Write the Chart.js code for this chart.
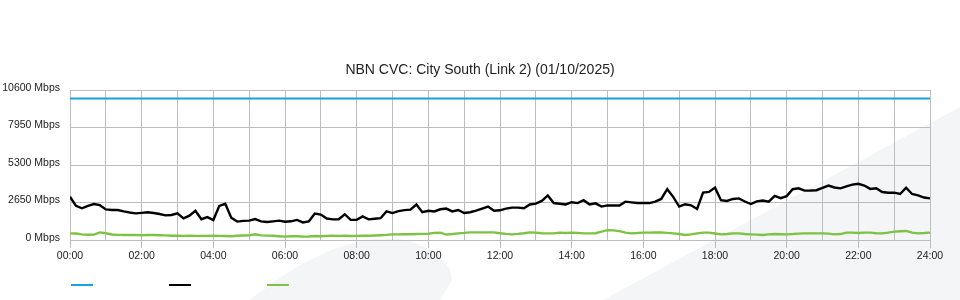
<!DOCTYPE html>
<html>
<head>
<meta charset="utf-8">
<script src="https://cdn.jsdelivr.net/npm/chart.js@4/dist/chart.umd.min.js"></script>
<style>
  html, body { margin: 0; padding: 0; background: #ffffff; }
  #wrap { width: 960px; height: 300px; position: relative; }
</style>
</head>
<body>
<div id="wrap"><canvas id="c"></canvas></div>
<script>
// ---------------- data ----------------
const chartTitle = 'NBN CVC: City South (Link 2) (01/10/2025)';
const yTickValues = [0, 2650, 5300, 7950, 10600];
const yUnit = ' Mbps';
const xLabelHours = [0, 2, 4, 6, 8, 10, 12, 14, 16, 18, 20, 22, 24];

// capacity line (Mbps)
const capacityHours = [0, 24];
const capacity = [10000, 10000];

// 10-minute samples, 00:00 .. 24:00
const sampleMinutes = Array.from({ length: 145 }, (_, i) => i * 10);

const trafficIn = [
  3060, 2410, 2240, 2410, 2540, 2460,
  2160, 2120, 2120, 2020, 1940, 1880,
  1920, 1960, 1910, 1840, 1740, 1770,
  1880, 1530, 1720, 2070, 1470, 1620,
  1410, 2410, 2560, 1570, 1300, 1350,
  1370, 1480, 1320, 1270, 1320, 1370,
  1290, 1320, 1420, 1240, 1320, 1870,
  1800, 1520, 1460, 1470, 1820, 1420,
  1420, 1670, 1460, 1500, 1540, 2020,
  1900, 2040, 2110, 2150, 2510, 1970,
  2070, 2020, 2170, 2220, 2020, 2120,
  1910, 1960, 2070, 2220, 2360, 2070,
  2100, 2220, 2290, 2290, 2240, 2510,
  2570, 2760, 3150, 2610, 2560, 2510,
  2670, 2610, 2810, 2510, 2590, 2360,
  2450, 2440, 2440, 2710, 2660, 2610,
  2610, 2610, 2710, 2900, 3590, 3050,
  2360, 2530, 2450, 2190, 3350, 3400,
  3700, 2810, 2760, 2900, 2940, 2720,
  2540, 2730, 2790, 2710, 3120, 2960,
  3100, 3590, 3650, 3490, 3500, 3520,
  3690, 3850, 3710, 3650, 3790, 3910,
  3970, 3850, 3610, 3650, 3390, 3340,
  3350, 3250, 3690, 3250, 3150, 3000,
  2940
];

const trafficOut = [
  470, 460, 400, 370, 380, 540,
  480, 390, 360, 350, 360, 350,
  340, 360, 350, 340, 330, 300,
  300, 290, 300, 290, 290, 290,
  300, 290, 280, 270, 300, 320,
  330, 400, 330, 310, 300, 270,
  240, 260, 270, 240, 250, 280,
  270, 290, 300, 290, 300, 280,
  290, 300, 300, 320, 340, 360,
  400, 400, 410, 410, 420, 430,
  440, 500, 520, 380, 420, 470,
  500, 540, 540, 540, 540, 540,
  480, 430, 400, 430, 480, 540,
  520, 480, 470, 470, 520, 500,
  520, 500, 470, 470, 480, 590,
  700, 680, 630, 520, 470, 490,
  520, 520, 530, 540, 500, 470,
  420, 350, 400, 470, 520, 520,
  460, 400, 420, 470, 470, 420,
  400, 380, 350, 400, 420, 410,
  400, 420, 450, 470, 470, 470,
  470, 450, 400, 420, 520, 520,
  500, 520, 520, 480, 470, 520,
  590, 620, 640, 520, 470, 490,
  520
];

const seriesColors = { capacity: '#1ba1e2', inbound: '#000000', outbound: '#7dc242' };

// ---------------- helpers ----------------
const toPoints = (xs, ys) => ys.map((v, i) => ({ x: xs[i], y: v }));
const sampleHours = sampleMinutes.map(m => m / 60);
const pad2 = n => (n < 10 ? '0' : '') + n;
const FONT = "'Liberation Sans', Arial, Helvetica, sans-serif";
const GRID = '#bdbdbd';

// decorative light-grey background swooshes
const backdrop = {
  id: 'backdrop',
  beforeDraw(chart) {
    const ctx = chart.ctx;
    ctx.save();
    ctx.fillStyle = '#ffffff';
    ctx.fillRect(0, 0, chart.width, chart.height);
    ctx.fillStyle = '#f4f5f7';
    ctx.beginPath();
    ctx.moveTo(250, 300);
    ctx.bezierCurveTo(290, 268, 330, 245, 373, 239);
    ctx.lineTo(400, 239);
    ctx.bezierCurveTo(430, 245, 452, 262, 452, 280);
    ctx.lineTo(440, 300);
    ctx.closePath();
    ctx.fill();
    ctx.beginPath();
    ctx.moveTo(603, 300);
    ctx.lineTo(960, 107);
    ctx.lineTo(960, 300);
    ctx.closePath();
    ctx.fill();
    ctx.restore();
  }
};

new Chart(document.getElementById('c'), {
  type: 'line',
  data: {
    datasets: [
      { label: 'Capacity', data: toPoints(capacityHours, capacity), borderColor: seriesColors.capacity, backgroundColor: seriesColors.capacity, borderWidth: 2, pointRadius: 0, tension: 0 },
      { label: 'Inbound', data: toPoints(sampleHours, trafficIn), borderColor: seriesColors.inbound, backgroundColor: seriesColors.inbound, borderWidth: 2.4, pointRadius: 0, tension: 0 },
      { label: 'Outbound', data: toPoints(sampleHours, trafficOut), borderColor: seriesColors.outbound, backgroundColor: seriesColors.outbound, borderWidth: 2.4, pointRadius: 0, tension: 0 }
    ]
  },
  options: {
    responsive: true,
    maintainAspectRatio: false,
    animation: false,
    layout: { padding: 0 },
    plugins: {
      title: {
        display: true,
        text: chartTitle,
        color: '#222222',
        font: { family: FONT, size: 14, weight: 'normal' },
        padding: { top: 62, bottom: 11.2 }
      },
      legend: {
        display: true,
        position: 'bottom',
        align: 'start',
        title: { display: true, text: '', font: { family: FONT, size: 10 }, padding: { top: -68, bottom: 0 } },
        labels: {
          boxWidth: 22,
          boxHeight: 2,
          padding: 71,
          font: { family: FONT, size: 10 },
          generateLabels(chart) {
            return chart.data.datasets.map((ds, i) => ({
              text: '',
              fillStyle: ds.borderColor,
              strokeStyle: ds.borderColor,
              lineWidth: 0,
              hidden: false,
              datasetIndex: i
            }));
          }
        }
      },
      tooltip: { enabled: false }
    },
    scales: {
      x: {
        type: 'linear',
        min: 0,
        max: 24,
        border: { display: false },
        grid: {
          color: GRID,
          lineWidth: 1,
          drawTicks: true,
          tickLength: 8,
          tickColor: ctx => (ctx.tick && xLabelHours.includes(ctx.tick.value)) ? GRID : 'rgba(0,0,0,0)'
        },
        ticks: {
          stepSize: 1,
          autoSkip: false,
          maxRotation: 0,
          padding: 2,
          color: '#222222',
          font: { family: FONT, size: 10.5 },
          callback: v => xLabelHours.includes(v) ? pad2(v) + ':00' : ''
        },
        afterFit(scale) { scale.height = 25; }
      },
      y: {
        type: 'linear',
        position: 'left',
        min: yTickValues[0],
        max: yTickValues[yTickValues.length - 1],
        border: { display: false },
        grid: { color: GRID, lineWidth: 1, drawTicks: false },
        afterBuildTicks(scale) { scale.ticks = yTickValues.map(v => ({ value: v })); },
        ticks: {
          padding: 10,
          labelOffset: -2,
          color: '#222222',
          font: { family: FONT, size: 10.5 },
          callback: v => v + yUnit
        },
        afterFit(scale) { scale.width = 70; }
      },
      yRight: {
        type: 'linear',
        position: 'right',
        display: true,
        border: { display: false },
        grid: { display: false, drawTicks: false },
        ticks: { display: false },
        afterFit(scale) { scale.width = 30; }
      }
    }
  },
  plugins: [backdrop]
});
</script>
</body>
</html>
